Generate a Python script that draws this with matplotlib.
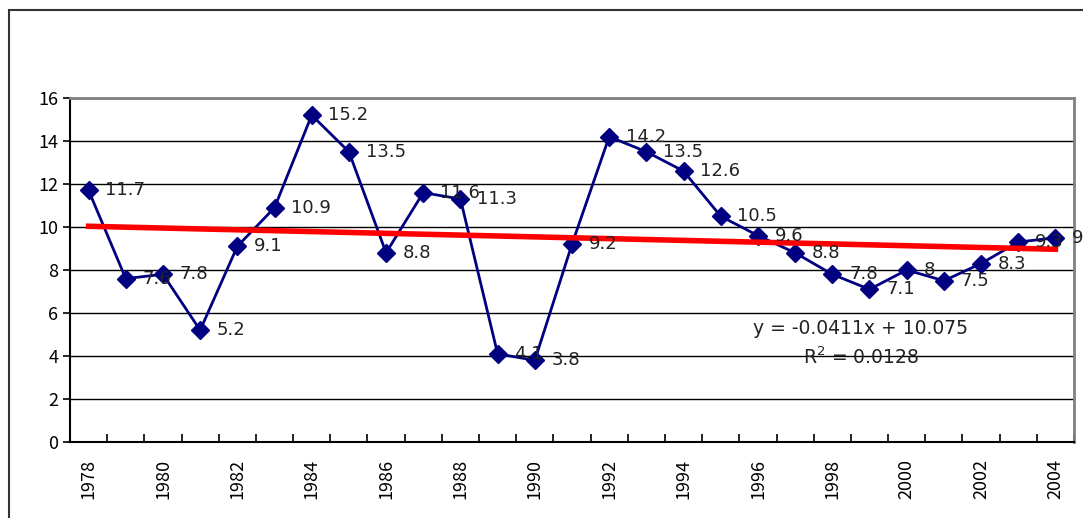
import matplotlib
matplotlib.use("Agg")
import matplotlib.pyplot as plt
from matplotlib.patches import Rectangle
import numpy as np

years = list(range(1978, 2005))
values = [11.7, 7.6, 7.8, 5.2, 9.1, 10.9, 15.2, 13.5, 8.8, 11.6, 11.3, 4.1, 3.8,
          9.2, 14.2, 13.5, 12.6, 10.5, 9.6, 8.8, 7.8, 7.1, 8.0, 7.5, 8.3, 9.3, 9.5]
labels = ["11.7", "7.6", "7.8", "5.2", "9.1", "10.9", "15.2", "13.5", "8.8", "11.6",
          "11.3", "4.1", "3.8", "9.2", "14.2", "13.5", "12.6", "10.5", "9.6", "8.8",
          "7.8", "7.1", "8", "7.5", "8.3", "9.3", "9.5"]
slope = -0.0411
intercept = 10.075
eq_text = "y = -0.0411x + 10.075"
r2_text = "R$^2$ = 0.0128"

plt.rcParams['font.family'] = ['Noto Sans CJK JP', 'DejaVu Sans']

fig = plt.figure(figsize=(10.83, 5.18), dpi=100)
# outer frame
fig.patches.append(Rectangle((9/1083, -0.01), 1.2, 1 - 10/518 + 0.01, transform=fig.transFigure,
                             fill=False, edgecolor='#333333', linewidth=1.5))

ax = fig.add_axes([70/1083, 1 - 442/518, (1074 - 70)/1083, (442 - 98)/518])
x = np.arange(len(years))
ax.plot(x, values, color='#000080', linewidth=2, marker='D', markersize=9, zorder=3)

idx = np.arange(1, len(years) + 1)
trend = slope * idx + intercept
ax.plot(x, trend, color='#ff0000', linewidth=4, zorder=4)

for xi, v, lab in zip(x, values, labels):
    ax.text(xi + 0.45, v, lab, fontsize=13, va='center', ha='left', color='#222222',
            zorder=5, family='DejaVu Sans', clip_on=False)

ax.text(20.77, 5.3, eq_text, fontsize=13.5, ha='center', va='center', color='#222222',
        family='DejaVu Sans')
ax.text(20.77, 3.95, r2_text, fontsize=13.5, ha='center', va='center', color='#222222',
        family='DejaVu Sans')

ax.set_xlim(-0.5, len(years) - 0.5)
ax.set_ylim(0, 16)
ax.set_yticks(range(0, 17, 2))
ax.yaxis.grid(True, color='black', linewidth=1)
ax.set_axisbelow(True)

ax.set_xticks(x[::2])
ax.set_xticklabels([str(y) for y in years[::2]], rotation=90, fontsize=13)
ax.set_xticks(np.arange(-0.5, len(years)), minor=True)
ax.tick_params(axis='x', which='major', length=0, pad=12)
ax.tick_params(axis='x', which='minor', direction='in', length=6, width=1.2)
ax.tick_params(axis='y', labelsize=13, direction='out', length=5, width=1.2)

for s in ['left', 'bottom']:
    ax.spines[s].set_color('black')
    ax.spines[s].set_linewidth(1.5)
for s in ['top', 'right']:
    ax.spines[s].set_color('#808080')
    ax.spines[s].set_linewidth(2)

fig.savefig('out.png', dpi=100)
